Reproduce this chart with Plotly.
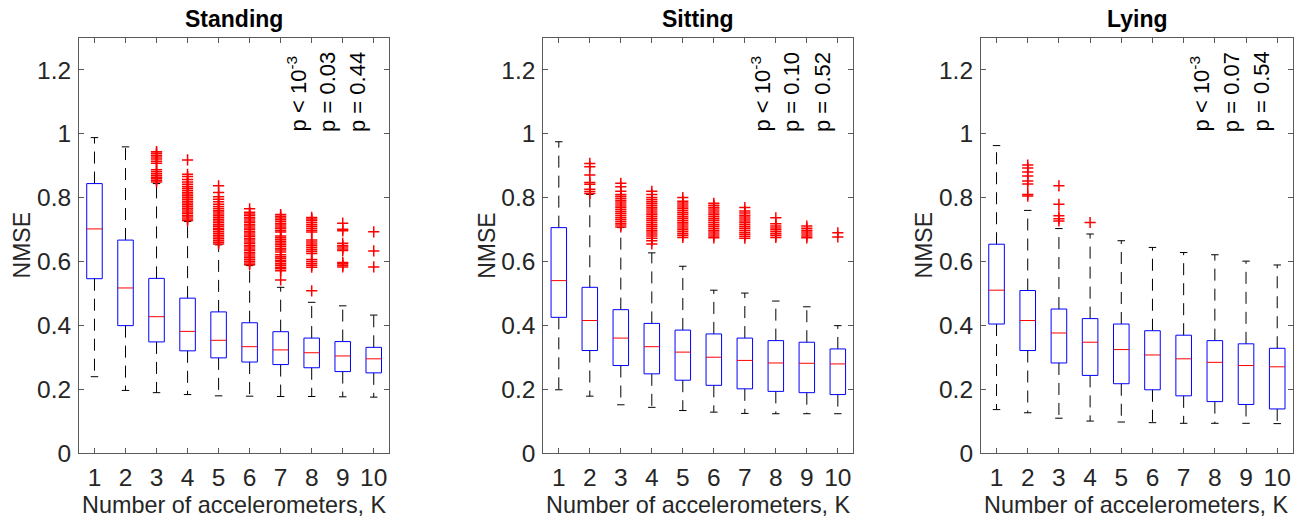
import plotly.graph_objects as go

K = [1, 2, 3, 4, 5, 6, 7, 8, 9, 10]
titles = ["Standing", "Sitting", "Lying"]
p_texts = [
    ["p &lt; 10<sup>-3</sup>", "p = 0.03", "p = 0.44"],
    ["p &lt; 10<sup>-3</sup>", "p = 0.10", "p = 0.52"],
    ["p &lt; 10<sup>-3</sup>", "p = 0.07", "p = 0.54"],
]
p_x = [7.53, 8.53, 9.50]
p_y = 1.0

# ---- Standing ----
standing_lo = [0.239, 0.196, 0.189, 0.183, 0.179, 0.178, 0.177, 0.177, 0.176, 0.175]
standing_q1 = [0.546, 0.399, 0.348, 0.320, 0.298, 0.285, 0.277, 0.267, 0.255, 0.251]
standing_med = [0.702, 0.517, 0.427, 0.381, 0.353, 0.333, 0.323, 0.314, 0.304, 0.295]
standing_q3 = [0.844, 0.667, 0.547, 0.485, 0.442, 0.408, 0.380, 0.360, 0.349, 0.331]
standing_hi = [0.988, 0.959, 0.844, 0.725, 0.652, 0.587, 0.519, 0.472, 0.461, 0.432]
standing_out = [
    [],
    [],
    [0.849, 0.854, 0.859, 0.864, 0.869, 0.875, 0.881, 0.887, 0.908, 0.914, 0.921, 0.927, 0.933, 0.939, 0.944],
    [0.728, 0.733, 0.739, 0.744, 0.750, 0.755, 0.761, 0.767, 0.772, 0.778, 0.783, 0.789, 0.795, 0.800,
     0.806, 0.811, 0.817, 0.823, 0.829, 0.835, 0.842, 0.849, 0.857, 0.866, 0.873, 0.918],
    [0.655, 0.660, 0.666, 0.671, 0.677, 0.682, 0.688, 0.693, 0.699, 0.704, 0.710, 0.715, 0.721, 0.727,
     0.732, 0.738, 0.743, 0.749, 0.755, 0.760, 0.766, 0.772, 0.779, 0.787, 0.795, 0.803, 0.816, 0.837],
    [0.590, 0.595, 0.601, 0.606, 0.612, 0.617, 0.623, 0.628, 0.634, 0.639, 0.645, 0.650, 0.656, 0.661,
     0.667, 0.672, 0.678, 0.683, 0.689, 0.694, 0.700, 0.705, 0.711, 0.716, 0.722, 0.727, 0.733, 0.738,
     0.744, 0.749, 0.754, 0.765],
    [0.542, 0.571, 0.577, 0.582, 0.588, 0.593, 0.599, 0.604, 0.610, 0.615, 0.621, 0.630, 0.636, 0.641,
     0.647, 0.652, 0.658, 0.663, 0.669, 0.674, 0.680, 0.692, 0.697, 0.703, 0.708, 0.714, 0.719, 0.725,
     0.731, 0.736, 0.742, 0.747],
    [0.508, 0.582, 0.588, 0.594, 0.600, 0.606, 0.625, 0.631, 0.637, 0.643, 0.649, 0.655, 0.661, 0.667,
     0.692, 0.698, 0.704, 0.710, 0.716, 0.722, 0.728, 0.733, 0.738],
    [0.583, 0.588, 0.593, 0.597, 0.634, 0.639, 0.645, 0.650, 0.657, 0.696, 0.701, 0.720],
    [0.583, 0.633, 0.693],
]

# ---- Sitting ----
sitting_lo = [0.198, 0.178, 0.151, 0.143, 0.133, 0.128, 0.124, 0.123, 0.123, 0.123]
sitting_q1 = [0.425, 0.321, 0.274, 0.248, 0.228, 0.212, 0.201, 0.193, 0.189, 0.183]
sitting_med = [0.540, 0.415, 0.360, 0.333, 0.316, 0.300, 0.290, 0.282, 0.281, 0.279]
sitting_q3 = [0.706, 0.519, 0.449, 0.406, 0.385, 0.373, 0.360, 0.352, 0.347, 0.326]
sitting_hi = [0.975, 0.810, 0.706, 0.627, 0.585, 0.510, 0.501, 0.476, 0.458, 0.399]
sitting_out = [
    [],
    [0.813, 0.819, 0.826, 0.842, 0.847, 0.871, 0.897, 0.907],
    [0.708, 0.714, 0.720, 0.726, 0.732, 0.738, 0.744, 0.750, 0.756, 0.762, 0.768, 0.774, 0.780, 0.786,
     0.792, 0.798, 0.804, 0.810, 0.820, 0.834, 0.845],
    [0.655, 0.665, 0.673, 0.680, 0.686, 0.692, 0.698, 0.704, 0.710, 0.716, 0.722, 0.728, 0.734, 0.740,
     0.746, 0.752, 0.758, 0.764, 0.770, 0.776, 0.782, 0.788, 0.794, 0.800, 0.810, 0.820],
    [0.675, 0.681, 0.687, 0.693, 0.699, 0.705, 0.711, 0.717, 0.723, 0.729, 0.735, 0.741, 0.747, 0.753,
     0.759, 0.765, 0.771, 0.777, 0.783, 0.789, 0.800],
    [0.674, 0.680, 0.686, 0.692, 0.698, 0.704, 0.710, 0.716, 0.722, 0.728, 0.734, 0.740, 0.746, 0.752,
     0.758, 0.764, 0.770, 0.776, 0.782],
    [0.673, 0.679, 0.685, 0.691, 0.697, 0.703, 0.709, 0.715, 0.721, 0.727, 0.733, 0.739, 0.745, 0.752,
     0.758, 0.769],
    [0.675, 0.681, 0.687, 0.693, 0.699, 0.705, 0.711, 0.718, 0.737],
    [0.674, 0.680, 0.686, 0.692, 0.698, 0.704, 0.711],
    [0.677, 0.690],
]

# ---- Lying ----
lying_lo = [0.136, 0.126, 0.109, 0.100, 0.097, 0.095, 0.093, 0.093, 0.093, 0.092]
lying_q1 = [0.404, 0.321, 0.282, 0.243, 0.217, 0.198, 0.179, 0.161, 0.152, 0.138]
lying_med = [0.510, 0.415, 0.376, 0.347, 0.324, 0.307, 0.295, 0.284, 0.274, 0.270]
lying_q3 = [0.654, 0.509, 0.451, 0.421, 0.404, 0.383, 0.369, 0.352, 0.342, 0.328]
lying_hi = [0.963, 0.760, 0.703, 0.686, 0.665, 0.644, 0.628, 0.621, 0.601, 0.589]
lying_out = [
    [],
    [0.805, 0.810, 0.843, 0.852, 0.868, 0.880, 0.893, 0.902],
    [0.727, 0.734, 0.743, 0.779, 0.837],
    [0.722],
    [], [], [], [], [], [],
]

panels = [
    (standing_lo, standing_q1, standing_med, standing_q3, standing_hi, standing_out),
    (sitting_lo, sitting_q1, sitting_med, sitting_q3, sitting_hi, sitting_out),
    (lying_lo, lying_q1, lying_med, lying_q3, lying_hi, lying_out),
]

HALF_BOX = 0.25
HALF_CAP = 0.12
FONT = "Liberation Sans, Arial, Helvetica, sans-serif"
TXT = "#262626"
AX = "#5a5a5a"

x_domains = [[0.0607, 0.2992], [0.4176, 0.6559], [0.7540, 0.9937]]
y_domain = [0.1255, 0.9266]

fig = go.Figure()

for i, (lo, q1, med, q3, hi, out) in enumerate(panels):
    xa = "x" if i == 0 else f"x{i+1}"
    ya = "y" if i == 0 else f"y{i+1}"
    # whiskers (dashed)
    wx, wy = [], []
    for k, a, b, c, d in zip(K, lo, q1, q3, hi):
        wx += [k, k, None, k, k, None]
        wy += [c, d, None, b, a, None]
    fig.add_trace(go.Scatter(x=wx, y=wy, mode="lines", xaxis=xa, yaxis=ya,
                             line=dict(color="black", width=1, dash="12px,8px"),
                             hoverinfo="skip", showlegend=False))
    # caps
    cx, cy = [], []
    for k, a, d in zip(K, lo, hi):
        cx += [k - HALF_CAP, k + HALF_CAP, None, k - HALF_CAP, k + HALF_CAP, None]
        cy += [d, d, None, a, a, None]
    fig.add_trace(go.Scatter(x=cx, y=cy, mode="lines", xaxis=xa, yaxis=ya,
                             line=dict(color="black", width=1),
                             hoverinfo="skip", showlegend=False))
    # boxes
    bx, by = [], []
    for k, b, c in zip(K, q1, q3):
        bx += [k - HALF_BOX, k + HALF_BOX, k + HALF_BOX, k - HALF_BOX, k - HALF_BOX, None]
        by += [b, b, c, c, b, None]
    fig.add_trace(go.Scatter(x=bx, y=by, mode="lines", xaxis=xa, yaxis=ya,
                             line=dict(color="#0000ff", width=1),
                             hoverinfo="skip", showlegend=False))
    # medians
    mx, my = [], []
    for k, m in zip(K, med):
        mx += [k - HALF_BOX, k + HALF_BOX, None]
        my += [m, m, None]
    fig.add_trace(go.Scatter(x=mx, y=my, mode="lines", xaxis=xa, yaxis=ya,
                             line=dict(color="#ff0000", width=1),
                             hoverinfo="skip", showlegend=False))
    # outliers
    ox, oy = [], []
    for k, vals in zip(K, out):
        ox += [k] * len(vals)
        oy += vals
    fig.add_trace(go.Scatter(x=ox, y=oy, mode="markers", xaxis=xa, yaxis=ya,
                             marker=dict(symbol="cross-thin", size=8,
                                         line=dict(color="#ff0000", width=1.5)),
                             hoverinfo="skip", showlegend=False))

    axis_common = dict(showgrid=False, zeroline=False, showline=True, linecolor=AX,
                       linewidth=1, mirror="ticks", ticks="inside", ticklen=5,
                       tickcolor=AX, tickwidth=1, automargin=False,
                       tickfont=dict(family=FONT, size=24.5, color=TXT))
    xkey = "xaxis" if i == 0 else f"xaxis{i+1}"
    ykey = "yaxis" if i == 0 else f"yaxis{i+1}"
    fig.update_layout({
        xkey: dict(axis_common, domain=x_domains[i], range=[0.5, 10.5],
                   tickmode="array", tickvals=K, ticktext=[str(k) for k in K],
                   anchor=ya, ticklabelstandoff=3),
        ykey: dict(axis_common, domain=y_domain, range=[0, 1.3], dtick=0.2,
                   tick0=0, anchor=xa, ticklabelstandoff=2),
    })

    xdom = f"{xa} domain"
    ydom = f"{ya} domain"
    fig.add_annotation(text=f"<b>{titles[i]}</b>", xref=xdom, yref=ydom, x=0.5, y=1,
                       xanchor="center", yanchor="middle", yshift=19, showarrow=False,
                       font=dict(family=FONT, size=23, color="black"))
    fig.add_annotation(text="Number of accelerometers, K", xref=xdom, yref=ydom,
                       x=0.5, y=0, xanchor="center", yanchor="middle", yshift=-52,
                       showarrow=False, font=dict(family=FONT, size=23.4, color=TXT))
    fig.add_annotation(text="NMSE", xref=xdom, yref=ydom, x=0, y=0.5,
                       xanchor="center", yanchor="middle", xshift=-57, textangle=-90,
                       showarrow=False, font=dict(family=FONT, size=23, color=TXT))
    for t, px in zip(p_texts[i], p_x):
        fig.add_annotation(text=t, xref=xa, yref=ya, x=px, y=p_y,
                           xanchor="center", yanchor="bottom", textangle=-90,
                           showarrow=False, font=dict(family=FONT, size=22, color="black"))

fig.update_layout(autosize=True, margin=dict(l=0, r=0, t=0, b=0, autoexpand=False),
                  plot_bgcolor="white", paper_bgcolor="white", showlegend=False)

post = (
    "document.documentElement.style.margin='0';"
    "document.documentElement.style.padding='0';"
    "document.documentElement.style.overflow='hidden';"
    "document.body.style.margin='0';"
    "document.body.style.padding='0';"
    "document.body.style.overflow='hidden';"
    "var gd=document.getElementById('{plot_id}');"
    "gd.style.width='100vw';gd.style.height='100vh';"
    "Plotly.Plots.resize(gd);"
)

fig.write_html("out.html", default_width="100vw", default_height="100vh",
               config={"displayModeBar": False, "responsive": True},
               post_script=post)
